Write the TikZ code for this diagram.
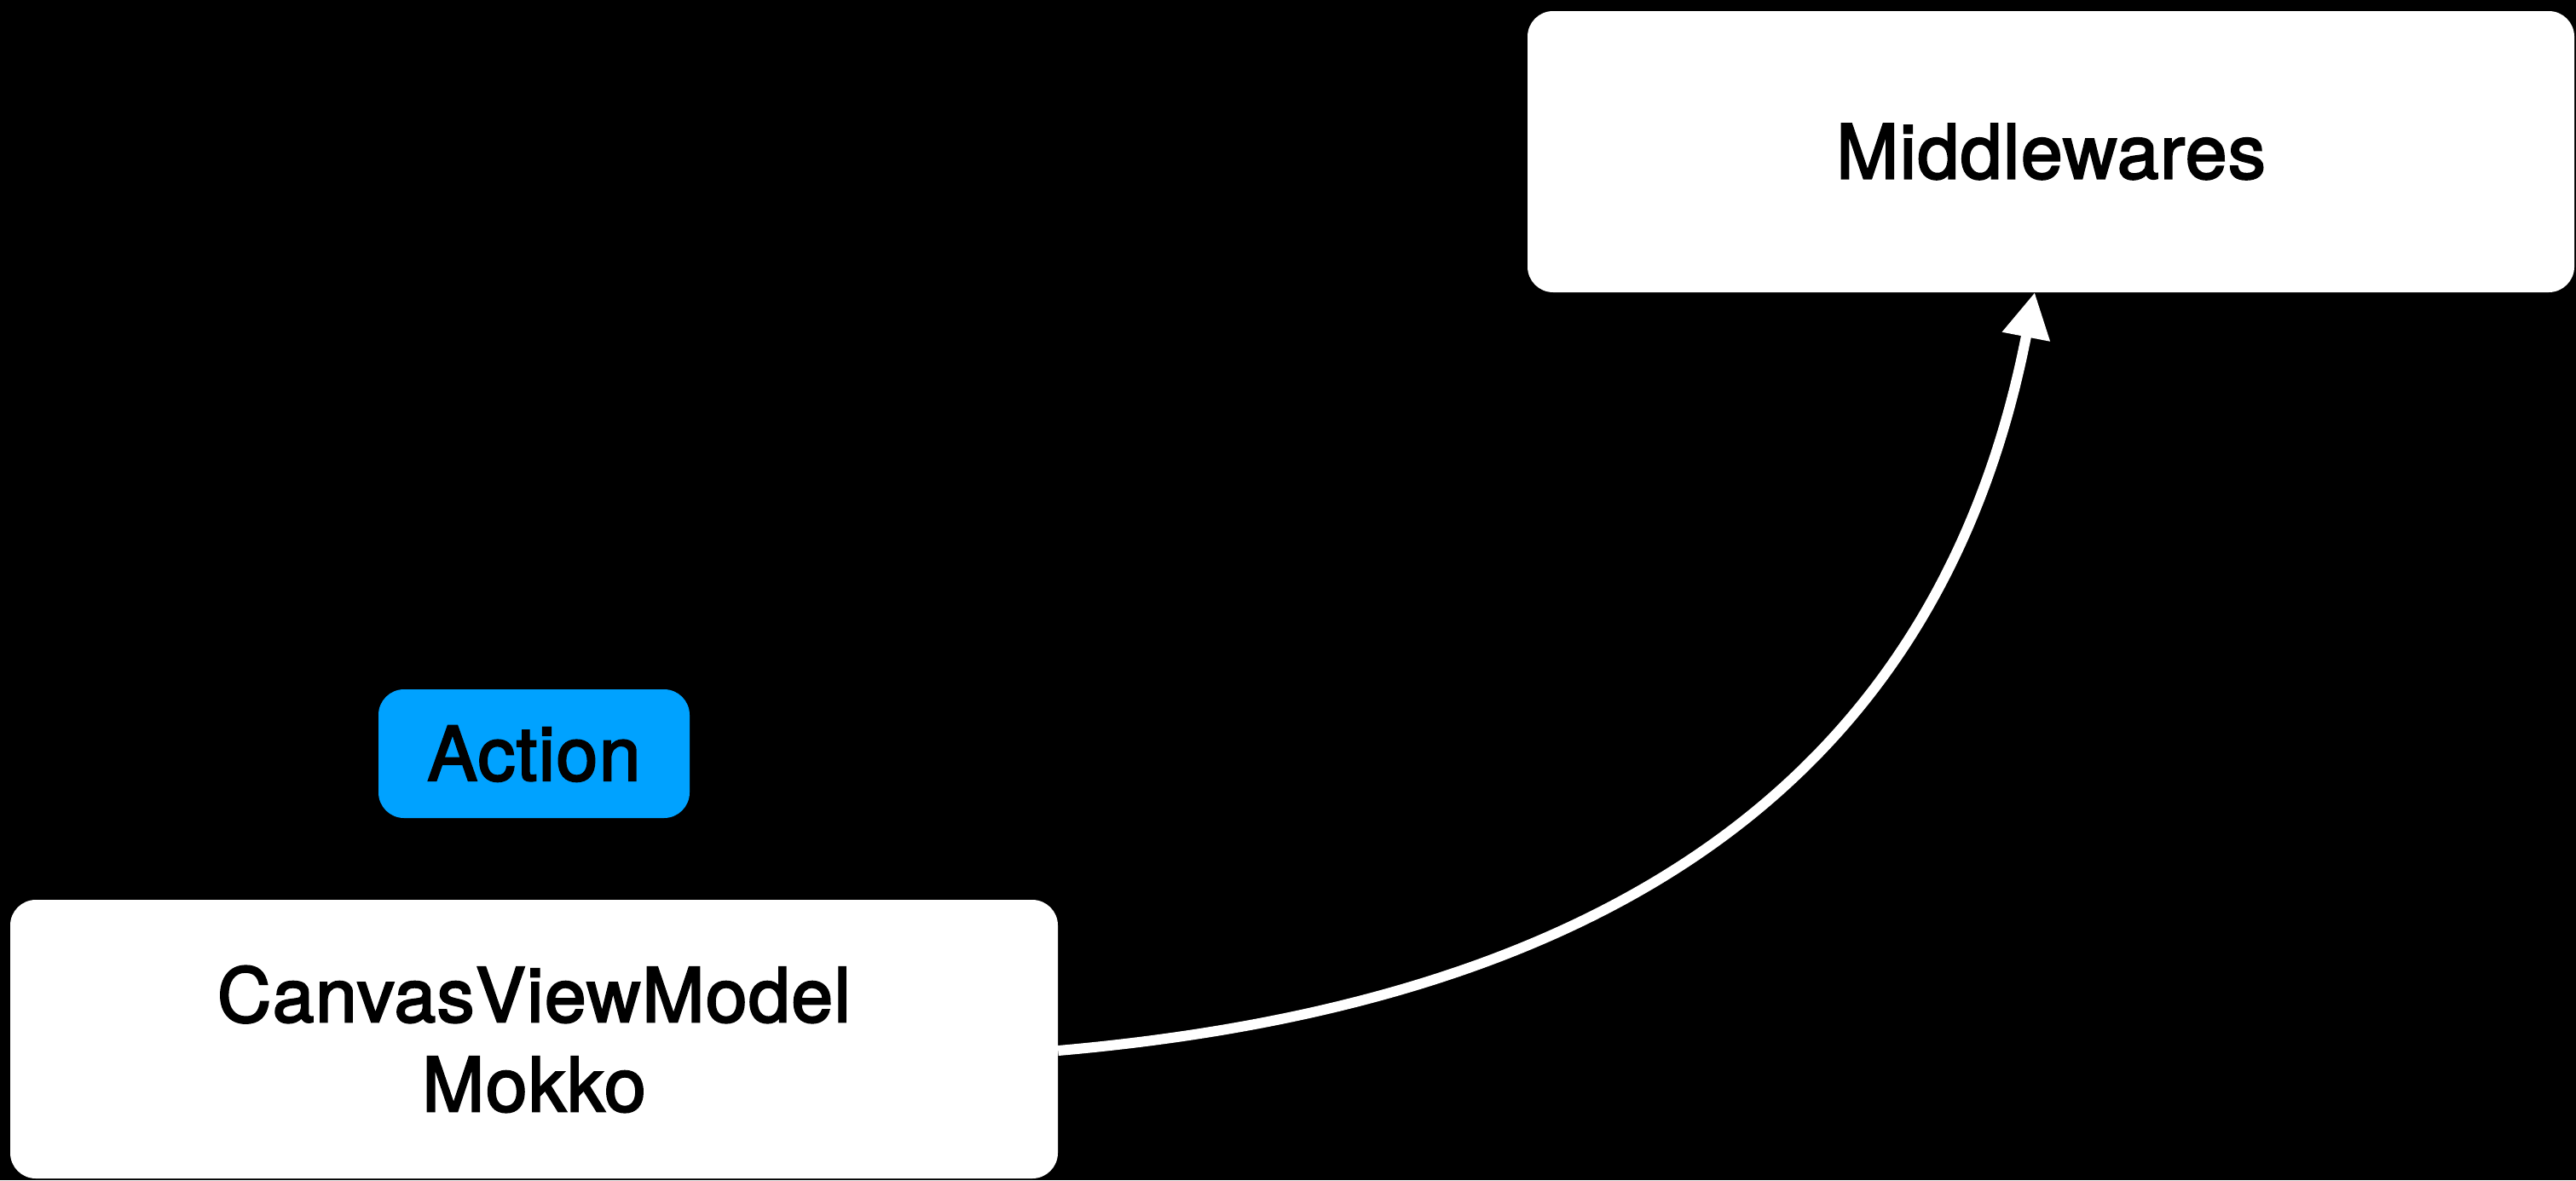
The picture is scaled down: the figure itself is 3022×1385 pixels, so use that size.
\documentclass[tikz,border=0pt]{standalone}
\usepackage{fontspec}
\setmainfont{TeX Gyre Heros}[BoldFont=TeX Gyre Heros, BoldFeatures={FakeBold=2.5, LetterSpace=1.5}]
\usetikzlibrary{arrows.meta}
\definecolor{actionblue}{HTML}{00A2FF}
\begin{document}
\begin{tikzpicture}[x=1pt, y=-1pt,
  box/.style={fill=white, draw=none, rounded corners=30pt, inner sep=0pt,
    align=center, font=\fontsize{88}{105}\selectfont\bfseries, text=black},
  tag/.style={fill=actionblue, draw=none, rounded corners=30pt, inner sep=0pt,
    font=\fontsize{88}{105}\selectfont\bfseries, text=black},
  flow/.style={white, line width=12pt,
    -{Triangle[length=53pt, width=54pt]}}]
  % canvas
  \fill[black] (0,0) rectangle (3022,1385);
  \useasboundingbox (0,0) rectangle (3022,1385);

  % boxes
  \node[box, minimum width=1228pt, minimum height=330pt] (mw) at (2406,178) {Middlewares};
  \node[tag, minimum width=365pt, minimum height=151pt] (act) at (626.5,884.5) {Action};
  \node[box, minimum width=1229pt, minimum height=327pt] (cvm) at (626.5,1219.5)
    {CanvasViewModel\\Mokko};

  % connector
  \draw[flow] ([yshift=-13.5pt]cvm.east)
    .. controls +(747,-65) and +(-96,491) .. ([xshift=-19pt]mw.south);
\end{tikzpicture}
\end{document}
